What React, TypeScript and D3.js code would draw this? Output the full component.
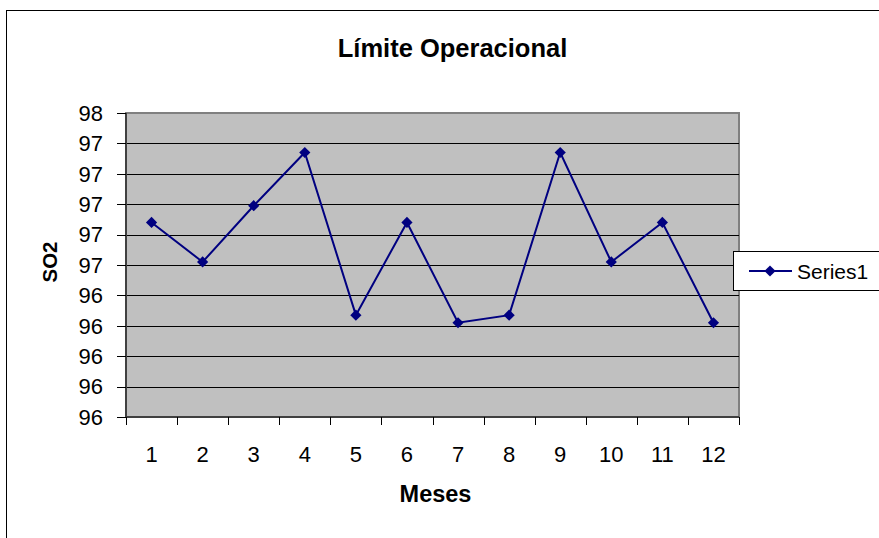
import React from "react";
import * as d3 from "d3";

// chart values
const months = [1, 2, 3, 4, 5, 6, 7, 8, 9, 10, 11, 12];
const so2 = [96.88, 96.62, 96.99, 97.34, 96.27, 96.88, 96.22, 96.27, 97.34, 96.62, 96.88, 96.22];
const yTicks = [95.6, 95.8, 96.0, 96.2, 96.4, 96.6, 96.8, 97.0, 97.2, 97.4, 97.6];
const seriesName = "Series1";

const layout = {
  width: 879,
  height: 538,
  plotLeft: 126,
  plotRight: 739,
  plotTop: 113,
  plotBottom: 417,
  font: "'Liberation Sans', Arial, sans-serif",
};

const App = () => {
  const x = d3
    .scaleBand<number>()
    .domain(months)
    .range([layout.plotLeft, layout.plotRight]);

  const y = d3
    .scaleLinear()
    .domain([yTicks[0], yTicks[yTicks.length - 1]])
    .range([layout.plotBottom, layout.plotTop]);

  const fmt = d3.format(".0f");
  const cx = (m: number) => (x(m) as number) + x.bandwidth() / 2;

  const line = d3
    .line<number>()
    .x((d, i) => cx(months[i]))
    .y((d) => y(d));

  const diamond = d3.symbol().type(d3.symbolDiamond2).size(80)();

  // tick positions at band boundaries on the x axis
  const xBounds = months.map((m) => x(m) as number).concat([layout.plotRight]);

  return (
    <svg
      width={layout.width}
      height={layout.height}
      style={{ position: "absolute", left: 0, top: 0 }}
      fontFamily={layout.font}
    >
      <rect width={layout.width} height={layout.height} fill="#fff" />
      {/* chart area border */}
      <line x1={6} y1={10.5} x2={layout.width} y2={10.5} stroke="#000" strokeWidth={1} />
      <line x1={6.5} y1={10} x2={6.5} y2={layout.height} stroke="#000" strokeWidth={1} />

      <text
        x={452.5}
        y={57}
        textAnchor="middle"
        fontSize={25.5}
        fontWeight="bold"
        fill="#000"
      >
        Límite Operacional
      </text>

      {/* plot area */}
      <rect
        x={layout.plotLeft}
        y={layout.plotTop}
        width={layout.plotRight - layout.plotLeft}
        height={layout.plotBottom - layout.plotTop}
        fill="#c0c0c0"
        stroke="#808080"
        strokeWidth={2}
      />
      {yTicks.slice(1, -1).map((t) => (
        <line
          key={"grid-" + t}
          x1={layout.plotLeft}
          x2={layout.plotRight}
          y1={Math.round(y(t)) + 0.5}
          y2={Math.round(y(t)) + 0.5}
          stroke="#000"
          strokeWidth={1}
        />
      ))}

      {/* y axis */}
      <line
        x1={layout.plotLeft}
        x2={layout.plotLeft}
        y1={layout.plotTop}
        y2={layout.plotBottom}
        stroke="#404040"
        strokeWidth={2}
      />
      {yTicks.map((t) => (
        <g key={"yt-" + t}>
          <line
            x1={layout.plotLeft - 9}
            x2={layout.plotLeft}
            y1={Math.round(y(t)) + 0.5}
            y2={Math.round(y(t)) + 0.5}
            stroke="#000"
          />
          <text
            x={103}
            y={y(t) + 7.8}
            textAnchor="end"
            fontSize={22}
            fill="#000"
          >
            {fmt(t)}
          </text>
        </g>
      ))}

      {/* x axis */}
      <line
        x1={layout.plotLeft}
        x2={layout.plotRight}
        y1={layout.plotBottom}
        y2={layout.plotBottom}
        stroke="#404040"
        strokeWidth={2}
      />
      {xBounds.map((b, i) => (
        <line
          key={"xt-" + i}
          x1={Math.round(b) + 0.5}
          x2={Math.round(b) + 0.5}
          y1={layout.plotBottom}
          y2={layout.plotBottom + 8}
          stroke="#000"
        />
      ))}
      {months.map((m) => (
        <text
          key={"xl-" + m}
          x={cx(m)}
          y={461.5}
          textAnchor="middle"
          fontSize={22}
          fill="#000"
        >
          {m}
        </text>
      ))}

      <text x={435.5} y={501.5} textAnchor="middle" fontSize={23.5} fontWeight="bold" fill="#000">
        Meses
      </text>
      <text
        transform={`translate(56.5, 262) rotate(-90)`}
        textAnchor="middle"
        fontSize={20.5}
        fontWeight="bold"
        fill="#000"
      >
        SO2
      </text>

      {/* series */}
      <path d={line(so2) as string} fill="none" stroke="#000080" strokeWidth={2} />
      {so2.map((v, i) => (
        <path
          key={"pt-" + i}
          d={diamond as string}
          transform={`translate(${cx(months[i])}, ${y(v)})`}
          fill="#000080"
        />
      ))}

      {/* legend */}
      <rect x={733.5} y={251.5} width={150} height={39} fill="#fff" stroke="#000" strokeWidth={1} />
      <line x1={749} x2={792} y1={271} y2={271} stroke="#000080" strokeWidth={2} />
      <path d={diamond as string} transform="translate(770, 271)" fill="#000080" />
      <text x={797} y={278.5} fontSize={21} fill="#000">
        {seriesName}
      </text>
    </svg>
  );
};

export default App;
